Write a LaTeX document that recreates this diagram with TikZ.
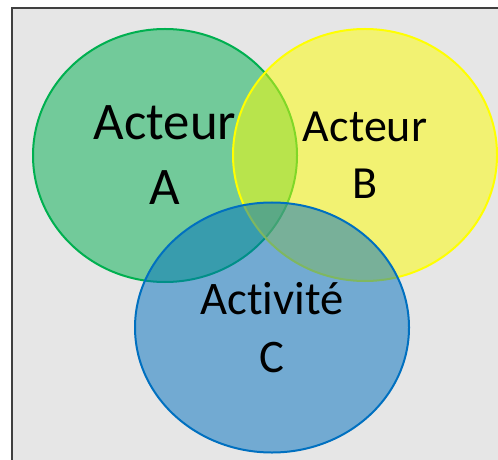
\documentclass[tikz,border=0pt]{standalone}
\usepackage{fontspec}
\setmainfont{Carlito}[Ligatures=NoCommon]
\usetikzlibrary{shapes.geometric}
\definecolor{actA}{HTML}{00B050}
\definecolor{actB}{HTML}{FFFF00}
\definecolor{actC}{HTML}{0070C0}
\definecolor{slide}{HTML}{E6E6E6}
\definecolor{frame}{HTML}{404040}

\begin{document}
\begin{tikzpicture}[x=0.75pt,y=-0.75pt,
  set/.style={ellipse,draw,line width=1.5pt,fill opacity=0.5,text opacity=1,
    inner sep=0pt,align=center,text=black}]

\useasboundingbox (0,0) rectangle (498,459);
\clip (0,0) rectangle (498,459);
\draw[frame,fill=slide,line width=1.2pt] (12,8) rectangle (520,480);

\node[set,draw=actA,fill=actA,minimum width=198pt,minimum height=189.75pt,
  font=\fontsize{39.6}{48.75}\selectfont] (actorA) at (165,155.5) {Acteur\\A};
\node[set,draw=actB,fill=actB,minimum width=198pt,minimum height=189pt,
  font=\fontsize{34.5}{42.75}\selectfont] (actorB) at (365,155) {Acteur\\B};
\node[set,draw=actC,fill=actC,minimum width=205.5pt,minimum height=187.5pt,
  font=\fontsize{35}{43.5}\selectfont] (activityC) at (272,327.5) {Activité\\C};

\end{tikzpicture}
\end{document}
